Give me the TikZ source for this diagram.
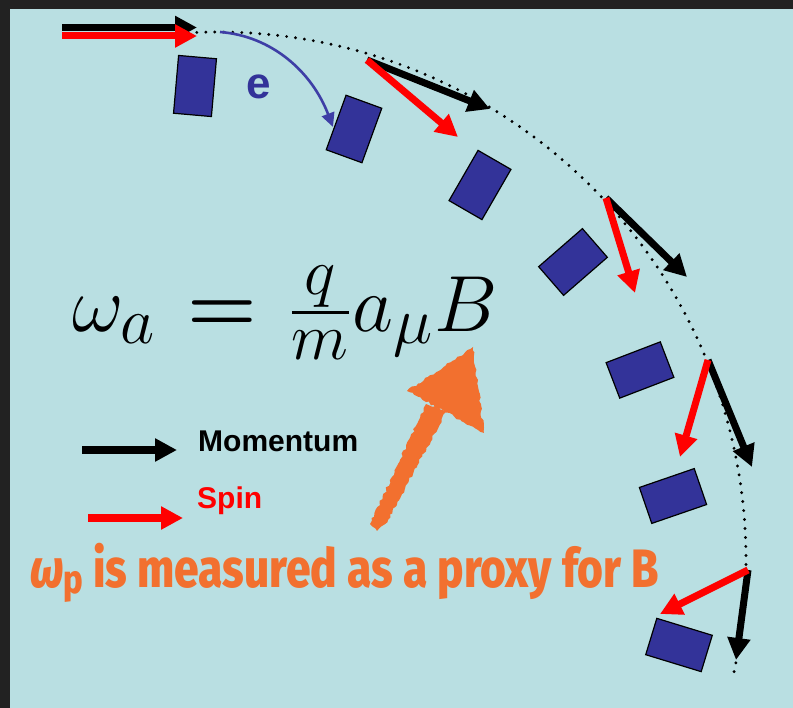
\documentclass[tikz,border=0pt]{standalone}
\usepackage{fontspec}
\usepackage{amsmath}
\usepackage{graphicx}
\usetikzlibrary{arrows.meta, decorations.pathmorphing, calc}
\newfontfamily\legendfont{Liberation Sans}
\newfontfamily\notefont{Fira Sans ExtraBold}[ItalicFont={Fira Sans ExtraBold Italic}]

\begin{document}
\begin{tikzpicture}[x=1pt, y=-1pt]

% -------------------------------------------------------
% Layout parameters (pixel grid, y pointing down)
% -------------------------------------------------------
\def\xC{218}     % centre of the orbit
\def\yC{560}
\def\R{528}      % orbit radius
\def\aStart{-92.3}
\def\aEnd{13}

% colors
\definecolor{bgblue}{HTML}{B9DFE2}
\definecolor{frame}{HTML}{222222}
\definecolor{block}{HTML}{333399}
\definecolor{eblue}{HTML}{3E3EA6}
\definecolor{spinred}{HTML}{FF0000}
\definecolor{note}{HTML}{F2702F}

\tikzstyle{mom} = [line width=7pt, -{Triangle[length=22pt, width=22pt]}];
\tikzstyle{spin} = [mom, spinred];
\tikzstyle{magnet} = [draw=black, line width=1.2pt, fill=block, minimum width=38pt, minimum height=58pt, inner sep=0pt];
\tikzstyle{legend} = [anchor=base west, inner sep=0pt, font=\legendfont\bfseries\fontsize{30}{30}\selectfont];

\pgfmathsetseed{7}

%%%%%% BACKGROUND
\fill[bgblue] (0,0) rectangle (793,708);
\fill[frame] (0,0) rectangle (793,9);
\fill[frame] (0,0) rectangle (10,708);
\useasboundingbox (0,0) rectangle (793,708);

%%%%%% ORBIT
\coordinate (C) at (\xC,\yC);
\draw[line width=3.2pt, line cap=round, dash pattern=on 0pt off 9pt]
  ($(C)+(\aStart:\R)$) arc[start angle=\aStart, end angle=\aEnd, radius=\R];

%%%%%% MAGNET BLOCKS
\node[magnet, rotate=-5]   (b1) at (195,86)  {};
\node[magnet, rotate=-20]  (b2) at (354,129) {};
\node[magnet, rotate=-30]  (b3) at (480,185) {};
\node[magnet, rotate=-49]  (b4) at (573,262) {};
\node[magnet, rotate=-69]  (b5) at (640,370) {};
\node[magnet, rotate=-71]  (b6) at (673,496) {};
\node[magnet, rotate=-107] (b7) at (679,645) {};

%%%%%% MOMENTUM / SPIN ALONG THE ORBIT
% entry
\coordinate (m0a) at (62,27.5);  \coordinate (m0b) at (197,27.5);
\coordinate (s0a) at (62,36);    \coordinate (s0b) at (197,36);
% stations
\coordinate (p1) at (367,60);
\coordinate (p2) at (606,198);
\coordinate (p3) at (708,360);
\coordinate (p4) at (748,570);
\coordinate (m1) at (490,109);  \coordinate (s1) at (458,137);
\coordinate (m2) at (687,277);  \coordinate (s2) at (635,293);
\coordinate (m3) at (752,467);  \coordinate (s3) at (680,457);
\coordinate (m4) at (736,660);  \coordinate (s4) at (660,614);

\draw[mom]  (m0a) -- (m0b);
\draw[spin] (s0a) -- (s0b);
\draw[mom]  (p1) -- (m1);
\draw[spin] (p1) -- (s1);
\draw[mom]  (p2) -- (m2);
\draw[spin] (p2) -- (s2);
\draw[mom]  (p3) -- (m3);
\draw[spin] (p3) -- (s3);
\draw[mom]  (p4) -- (m4);
\draw[spin] (p4) -- (s4);

%%%%%% ELECTRON
\coordinate (e0) at (220,32);
\coordinate (e1) at (333,127);
\draw[eblue, line width=2.6pt, -{Triangle[length=14pt, width=13pt]}]
  (e0) .. controls (272,36) and (312,72) .. (e1);
\node[anchor=base west, inner sep=0pt, text=block,
      font=\legendfont\bfseries\fontsize{44}{44}\selectfont] (elabel) at (246,99) {e};

%%%%%% FORMULA
\node[anchor=base west, inner sep=0pt] (formula) at (72,332)
  {\scalebox{3.2}{\Huge $\omega_a \mkern2mu\boldsymbol{=}\mkern2mu \frac{q}{m}a_\mu B$}};

%%%%%% LEGEND
\coordinate (lm0) at (82,450);  \coordinate (lm1) at (177,450);
\coordinate (ls0) at (88,518);  \coordinate (ls1) at (183,518);
\draw[mom, line width=8pt] (lm0) -- (lm1);
\draw[spin, line width=8pt] (ls0) -- (ls1);
\node[legend] (momtext) at (198,452) {Momentum};
\node[legend, text=spinred] (spintext) at (197,508) {Spin};

%%%%%% HAND DRAWN ARROW
\fill[note, decorate, decoration={random steps, segment length=3pt, amplitude=1.2pt}]
  (473,347) -- (407,391) -- (484,433) -- cycle;
\fill[note, decorate, decoration={random steps, segment length=3pt, amplitude=1.2pt}]
  (426,404) -- (446,412) -- (388,520) -- (377,531) -- (370,524) -- cycle;

%%%%%% NOTE
\node[anchor=base west, inner sep=0pt, text=note] (note) at (30,587)
  {\scalebox{0.82}[1]{\notefont\fontsize{54}{54}\selectfont
   \itshape ω\upshape\raisebox{-6pt}{\fontsize{40}{40}\selectfont p} is measured as a proxy for B}};

\end{tikzpicture}
\end{document}
